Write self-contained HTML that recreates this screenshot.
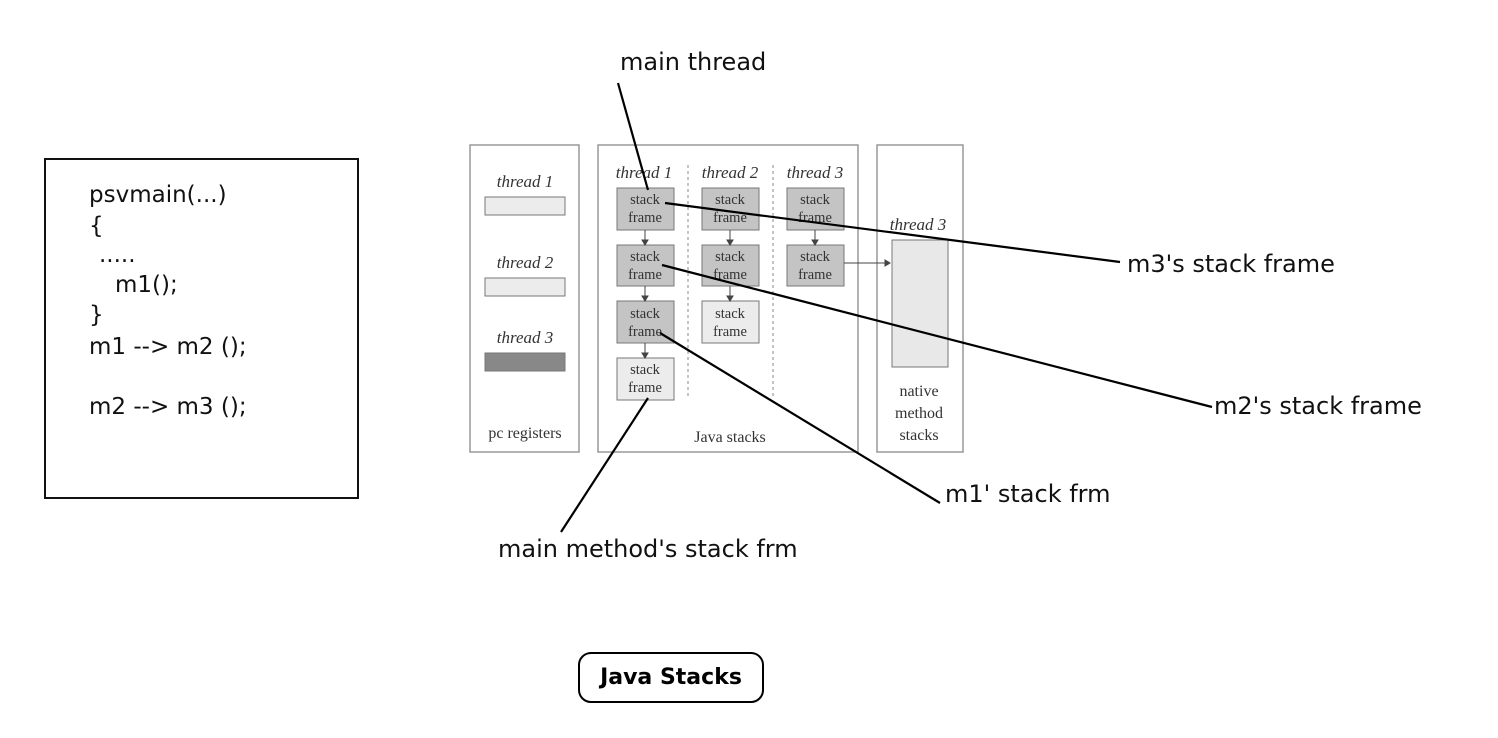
<!DOCTYPE html>
<html><head><meta charset="utf-8"><style>body{margin:0;background:#fff}svg{display:block}</style></head><body>
<svg width="1498" height="738" xmlns="http://www.w3.org/2000/svg">
<rect width="1498" height="738" fill="#fff"/>
<rect x="45" y="159" width="313" height="339" fill="none" stroke="#111" stroke-width="2"/>
<g font-family="DejaVu Sans, Liberation Sans, sans-serif" font-size="23" fill="#111">
<text x="89" y="202">psvmain(...)</text>
<text x="89" y="233">{</text>
<text x="99" y="262">.....</text>
<text x="115" y="292">m1();</text>
<text x="89" y="322">}</text>
<text x="89" y="354">m1  --&gt; m2 ();</text>
<text x="89" y="414">m2 --&gt; m3 ();</text>
</g>
<g fill="none" stroke="#999" stroke-width="1.5">
<rect x="470" y="145" width="109" height="307"/>
<rect x="598" y="145" width="260" height="307"/>
<rect x="877" y="145" width="86" height="307"/>
</g>
<g stroke="#777" stroke-width="1">
<rect x="485" y="197" width="80" height="18" fill="#ececec"/>
<rect x="485" y="278" width="80" height="18" fill="#ececec"/>
<rect x="485" y="353" width="80" height="18" fill="#888"/>
<rect x="892" y="240" width="56" height="127" fill="#e8e8e8"/>
</g>
<g font-family="Liberation Serif, serif" font-style="italic" font-size="17" fill="#333" text-anchor="middle">
<text x="525" y="187">thread 1</text><text x="525" y="268">thread 2</text><text x="525" y="343">thread 3</text>
<text x="644" y="178">thread 1</text><text x="730" y="178">thread 2</text><text x="815" y="178">thread 3</text>
<text x="918" y="230">thread 3</text>
</g>
<g stroke="#888" stroke-dasharray="3,3"><line x1="688" y1="165" x2="688" y2="398"/><line x1="773" y1="165" x2="773" y2="398"/></g>
<g stroke="#777" stroke-width="1">
<rect x="617" y="188" width="57" height="42" fill="#c4c4c4"/>
<rect x="617" y="245" width="57" height="41" fill="#c4c4c4"/>
<rect x="617" y="301" width="57" height="42" fill="#c4c4c4"/>
<rect x="617" y="358" width="57" height="42" fill="#ececec"/>
<rect x="702" y="188" width="57" height="42" fill="#c4c4c4"/>
<rect x="702" y="245" width="57" height="41" fill="#c4c4c4"/>
<rect x="702" y="301" width="57" height="42" fill="#ececec"/>
<rect x="787" y="188" width="57" height="42" fill="#c4c4c4"/>
<rect x="787" y="245" width="57" height="41" fill="#c4c4c4"/>
</g>
<g font-family="Liberation Serif, serif" font-size="14.5" fill="#333" text-anchor="middle">
<text x="645" y="204">stack</text><text x="645" y="222">frame</text>
<text x="645" y="261">stack</text><text x="645" y="279">frame</text>
<text x="645" y="318">stack</text><text x="645" y="336">frame</text>
<text x="645" y="374">stack</text><text x="645" y="392">frame</text>
<text x="730" y="204">stack</text><text x="730" y="222">frame</text>
<text x="730" y="261">stack</text><text x="730" y="279">frame</text>
<text x="730" y="318">stack</text><text x="730" y="336">frame</text>
<text x="815" y="204">stack</text><text x="815" y="222">frame</text>
<text x="815" y="261">stack</text><text x="815" y="279">frame</text>
</g>
<g font-family="Liberation Serif, serif" font-size="16" fill="#333" text-anchor="middle">
<text x="525" y="438">pc registers</text>
<text x="730" y="442">Java stacks</text>
<text x="919" y="396">native</text><text x="919" y="418">method</text><text x="919" y="440">stacks</text>
</g>
<g stroke="#444" stroke-width="1" fill="#444">
<line x1="645" y1="230" x2="645" y2="242"/><path d="M642,240 L648,240 L645,245Z"/>
<line x1="645" y1="286" x2="645" y2="298"/><path d="M642,296 L648,296 L645,301Z"/>
<line x1="645" y1="343" x2="645" y2="355"/><path d="M642,353 L648,353 L645,358Z"/>
<line x1="730" y1="230" x2="730" y2="242"/><path d="M727,240 L733,240 L730,245Z"/>
<line x1="730" y1="286" x2="730" y2="298"/><path d="M727,296 L733,296 L730,301Z"/>
<line x1="815" y1="230" x2="815" y2="242"/><path d="M812,240 L818,240 L815,245Z"/>
<line x1="844" y1="263" x2="887" y2="263"/><path d="M885,260 L885,266 L890,263Z"/>
</g>
<g stroke="#000" stroke-width="2.2" fill="none">
<line x1="618" y1="83" x2="648" y2="190"/>
<line x1="665" y1="203" x2="1120" y2="262"/>
<line x1="662" y1="265" x2="1212" y2="407"/>
<line x1="660" y1="333" x2="940" y2="503"/>
<line x1="648" y1="398" x2="561" y2="532"/>
</g>
<g font-family="DejaVu Sans, Liberation Sans, sans-serif" font-size="24" fill="#111">
<text x="620" y="70">main thread</text>
<text x="1127" y="272">m3's stack frame</text>
<text x="1214" y="414">m2's stack frame</text>
<text x="945" y="502">m1' stack frm</text>
<text x="498" y="557">main method's stack frm</text>
</g>
<rect x="579" y="653" width="184" height="49" rx="12" fill="#fff" stroke="#000" stroke-width="2"/>
<text x="671" y="684" text-anchor="middle" font-family="DejaVu Sans, Liberation Sans, sans-serif" font-weight="bold" font-size="22" fill="#000">Java Stacks</text>
</svg>
</body></html>
